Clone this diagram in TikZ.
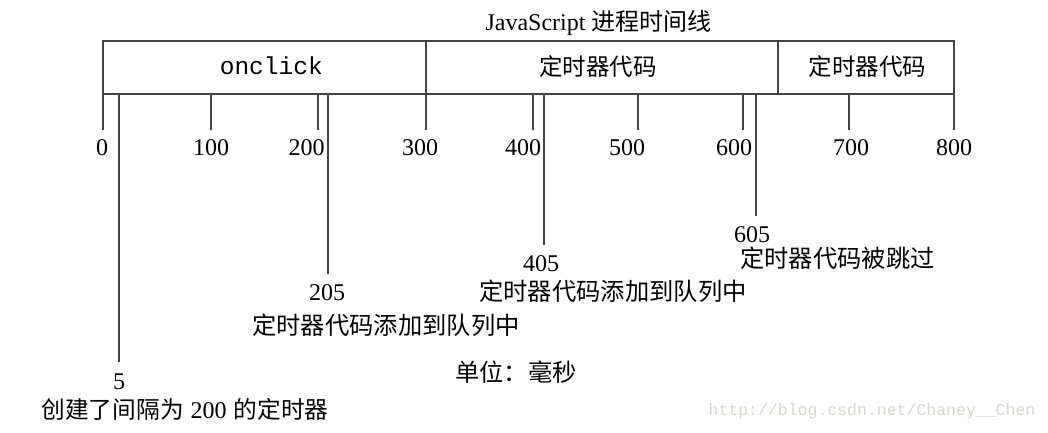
\documentclass[tikz,border=0pt]{standalone}
\usepackage{fontspec}
\setmainfont{Liberation Serif}
\newfontfamily\cjk{Noto Sans CJK SC}
\newfontfamily\monofam{Liberation Mono}
\definecolor{linec}{HTML}{444444}
\definecolor{wmc}{HTML}{D8D8D0}
\begin{document}
\begin{tikzpicture}[x=1pt,y=-1pt,
  boxline/.style={draw=linec,line width=1.8pt},
  tickline/.style={draw=linec,line width=1.8pt},
  lbl/.style={inner sep=0pt,font=\fontsize{24}{28}\selectfont},
  cjklbl/.style={inner sep=0pt,font=\fontsize{24.3}{28}\selectfont\cjk},
  cjkbox/.style={inner sep=0pt,font=\fontsize{23.5}{28}\selectfont\cjk},
]
\useasboundingbox[fill=white] (0,0) rectangle (1048,432);
% box
\draw[boxline] (103.3,41) rectangle (954,94);
\draw[boxline] (425.7,41) -- (425.7,94);
\draw[boxline] (777.7,41) -- (777.7,94);
% box texts
\node[inner sep=0pt,font=\fontsize{24.5}{28}\selectfont\monofam] (onclick) at (271.3,66) {onclick};
\node[cjkbox] (tmA) at (598,67) {定时器代码};
\node[cjkbox] (tmB) at (867.5,67) {定时器代码};
\node[lbl] (title) at (598.5,23) {JavaScript {\cjk\fontsize{24}{28}\selectfont 进程时间线}};
% ticks
\foreach \v/\x in {0/103.3,100/210.7,200/318.3,300/425.7,400/533.3,500/638.3,600/743.3,700/848.7,800/954}{
  \coordinate (t\v a) at (\x,94);
  \coordinate (t\v b) at (\x,130);
  \draw[tickline] (t\v a) -- (t\v b);
}
% tick labels
\foreach \v/\x in {0/102,100/211,200/306.5,300/420,400/523,500/627,600/734,700/851,800/954}{
  \node[lbl] (lab\v) at (\x,148) {\v};
}
% event lines
\coordinate (e5a) at (119.3,94);   \coordinate (e5b) at (119.3,361.7);
\coordinate (e205a) at (327.7,94); \coordinate (e205b) at (327.7,274);
\coordinate (e405a) at (543.7,94); \coordinate (e405b) at (543.7,245);
\coordinate (e605a) at (755.7,94); \coordinate (e605b) at (755.7,216);
\draw[tickline] (e5a) -- (e5b);
\draw[tickline] (e205a) -- (e205b);
\draw[tickline] (e405a) -- (e405b);
\draw[tickline] (e605a) -- (e605b);
% event labels
\node[lbl] (n5) at (119,381.7) {5};
\node[lbl] (n205) at (327,293) {205};
\node[lbl] (n405) at (541,264) {405};
\node[lbl] (n605) at (752,235) {605};
\node[lbl] (cap5) at (185,409) {{\cjk\fontsize{23.7}{28}\selectfont 创建了间隔为}\hspace{7pt}200\hspace{7pt}{\cjk\fontsize{23.7}{28}\selectfont 的定时器}};
\node[cjklbl] (cap205) at (386,325) {定时器代码添加到队列中};
\node[cjklbl] (cap405) at (613,291.7) {定时器代码添加到队列中};
\node[cjklbl] (cap605) at (837.5,258) {定时器代码被跳过};
\node[cjklbl] (unit) at (516,372) {单位：毫秒};
% watermark
\node[inner sep=0pt,text=wmc,font=\fontsize{16.5}{20}\selectfont\monofam] (wm) at (872,411.7) {http://blog.csdn.net/Chaney\_\_Chen};
\end{tikzpicture}
\end{document}
